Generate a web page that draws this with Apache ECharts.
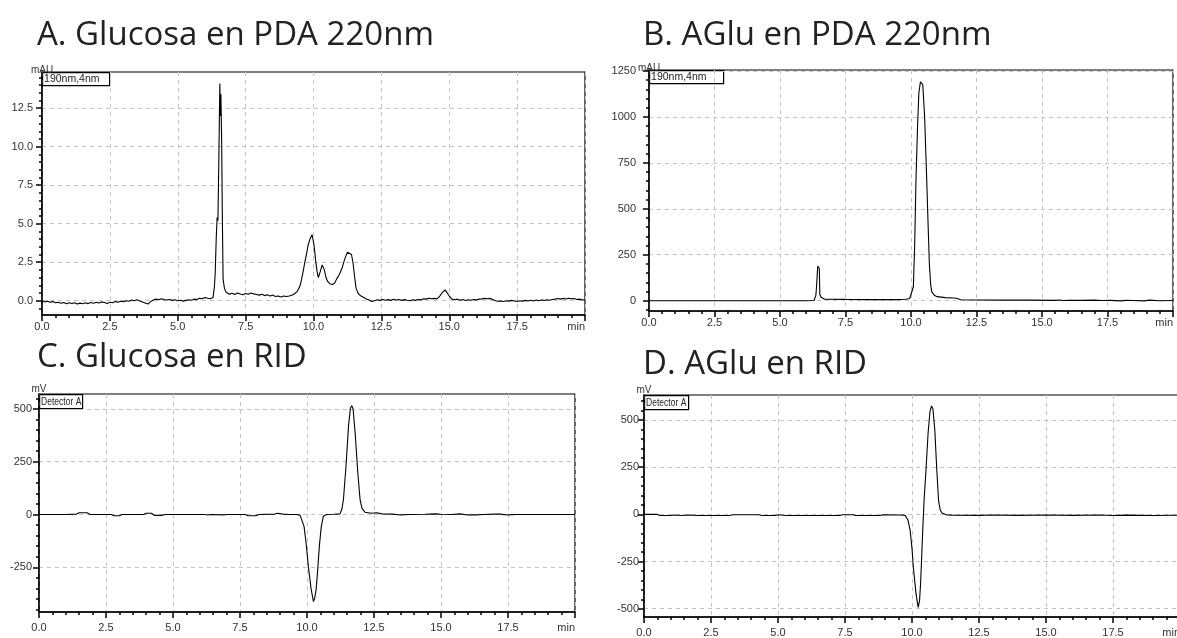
<!DOCTYPE html>
<html>
<head>
<meta charset="utf-8">
<script src="https://cdn.jsdelivr.net/npm/echarts@6/dist/echarts.min.js"></script>
<style>html,body{margin:0;padding:0;background:#fff;overflow:hidden;}#main{width:1177px;height:638px;}</style>
</head>
<body>
<div id="main"></div>
<script>
// ---------- DATA ----------
const titles = ['A. Glucosa en PDA 220nm', 'B. AGlu en PDA 220nm', 'C. Glucosa en RID', 'D. AGlu en RID'];
const yUnits = ['mAU', 'mAU', 'mV', 'mV'];
const boxLabels = ['190nm,4nm', '190nm,4nm', 'Detector A', 'Detector A'];
const xTicks = [0, 2.5, 5, 7.5, 10, 12.5, 15, 17.5, 20];

const yMajorA = [0, 2.5, 5, 7.5, 10, 12.5];
const yMajorB = [0, 250, 500, 750, 1000, 1250];
const yMajorC = [-250, 0, 250, 500];
const yMajorD = [-500, -250, 0, 250, 500];

const glucosaPDA = [[0,0.0],[0.1,-0.08],[0.2,-0.03],[0.3,-0.1],[0.4,-0.06],[0.5,-0.14],[0.6,-0.1],[0.7,-0.17],[0.8,-0.12],[0.9,-0.2],[1.0,-0.14],[1.1,-0.18],[1.2,-0.13],[1.3,-0.22],[1.4,-0.16],[1.5,-0.2],[1.6,-0.14],[1.7,-0.19],[1.8,-0.12],[1.9,-0.17],[2.0,-0.1],[2.1,-0.15],[2.2,-0.08],[2.3,-0.12],[2.4,-0.18],[2.5,-0.1],[2.6,-0.14],[2.7,-0.06],[2.8,-0.1],[2.9,-0.03],[3.0,-0.07],[3.1,0.0],[3.2,-0.04],[3.3,0.04],[3.4,0.0],[3.5,0.06],[3.6,-0.02],[3.7,-0.08],[3.8,-0.15],[3.9,-0.22],[4.0,-0.06],[4.1,0.05],[4.2,0.1],[4.3,0.06],[4.4,0.13],[4.5,0.07],[4.6,0.04],[4.7,0.08],[4.8,0.02],[4.9,0.06],[5.0,0.0],[5.1,0.03],[5.2,-0.03],[5.3,0.02],[5.4,0.06],[5.5,0.03],[5.6,0.1],[5.7,0.07],[5.8,0.15],[5.9,0.12],[6.0,0.2],[6.1,0.16],[6.2,0.13],[6.3,0.2],[6.35,0.9],[6.38,1.8],[6.42,4.2],[6.45,5.4],[6.48,5.2],[6.52,10.0],[6.55,14.1],[6.57,12.0],[6.59,13.4],[6.62,10.0],[6.64,5.8],[6.67,1.4],[6.72,0.8],[6.78,0.55],[6.9,0.42],[7.0,0.48],[7.1,0.4],[7.2,0.5],[7.3,0.43],[7.4,0.38],[7.5,0.47],[7.6,0.42],[7.7,0.5],[7.8,0.44],[7.9,0.4],[8.0,0.36],[8.1,0.42],[8.2,0.33],[8.3,0.38],[8.4,0.3],[8.5,0.36],[8.6,0.27],[8.7,0.3],[8.8,0.24],[8.9,0.3],[9.0,0.27],[9.1,0.3],[9.2,0.35],[9.3,0.45],[9.4,0.6],[9.5,0.95],[9.55,1.3],[9.62,1.9],[9.67,2.4],[9.75,3.1],[9.8,3.6],[9.88,4.05],[9.95,4.28],[10.02,3.6],[10.08,2.6],[10.13,1.9],[10.18,1.5],[10.25,1.9],[10.32,2.32],[10.4,2.0],[10.46,1.5],[10.52,1.25],[10.6,1.1],[10.7,1.05],[10.78,1.15],[10.85,1.4],[10.95,1.7],[11.05,2.1],[11.14,2.65],[11.25,3.15],[11.32,3.24],[11.4,3.0],[11.46,2.4],[11.51,1.6],[11.57,0.8],[11.65,0.45],[11.75,0.3],[11.85,0.2],[11.95,0.1],[12.05,0.05],[12.15,-0.05],[12.25,0.0],[12.35,0.06],[12.45,0.02],[12.55,0.08],[12.65,0.03],[12.75,0.07],[12.85,0.02],[12.95,0.09],[13.05,0.04],[13.15,0.08],[13.25,0.02],[13.35,0.07],[13.45,0.03],[13.55,0.0],[13.65,0.06],[13.75,0.02],[13.85,0.08],[13.95,0.05],[14.05,0.12],[14.15,0.1],[14.25,0.16],[14.35,0.12],[14.45,0.15],[14.55,0.12],[14.65,0.3],[14.75,0.55],[14.85,0.7],[14.92,0.6],[15.0,0.3],[15.1,0.1],[15.2,0.06],[15.3,0.1],[15.4,0.03],[15.5,0.07],[15.6,0.01],[15.7,0.06],[15.8,0.03],[15.9,0.08],[16.0,0.05],[16.1,0.1],[16.2,0.12],[16.3,0.15],[16.4,0.13],[16.5,0.15],[16.6,0.08],[16.7,0.0],[16.8,-0.04],[16.9,-0.02],[17.0,-0.05],[17.1,0.0],[17.2,-0.03],[17.3,0.02],[17.4,-0.02],[17.5,-0.05],[17.6,0.0],[17.7,-0.03],[17.8,0.02],[17.9,-0.02],[18.0,0.03],[18.1,-0.02],[18.2,0.04],[18.3,0.0],[18.4,0.05],[18.5,0.01],[18.6,0.06],[18.7,0.03],[18.8,0.08],[18.9,0.1],[19.0,0.14],[19.1,0.1],[19.2,0.15],[19.3,0.11],[19.4,0.16],[19.5,0.12],[19.6,0.14],[19.7,0.08],[19.8,0.1],[19.9,0.05],[20,0.06]];

const agluPDA = [[0,0],[1,0],[2,0],[3,0],[4,0],[5,0],[6,0],[6.3,1],[6.37,30],[6.4,89],[6.42,90],[6.44,188],[6.47,185],[6.5,175],[6.52,35],[6.56,20],[6.6,10],[6.7,8],[7.5,7],[8.5,6],[9.5,6],[9.8,8],[9.95,12],[10.02,18],[10.09,76],[10.14,300],[10.19,656],[10.25,950],[10.3,1130],[10.36,1190],[10.4,1195],[10.45,1175],[10.52,1000],[10.6,656],[10.66,380],[10.7,203],[10.75,90],[10.79,49],[10.9,28],[11.0,22],[11.3,17],[11.6,15],[11.74,13],[11.9,5],[12.5,4],[13.5,3],[14.5,3],[15.5,2],[15.7,4],[15.8,1],[16,2],[16.5,2],[17,3],[17.3,1],[17.6,2],[18,-1],[18.2,2],[18.5,1],[18.9,-1],[19.1,3],[19.5,0],[20,1]];

const glucosaRID = [[0,0],[1.0,0],[1.4,2],[1.5,8],[1.8,8],[1.9,0],[2.7,0],[2.8,-6],[3.0,-6],[3.1,0],[3.9,0],[4.0,6],[4.2,6],[4.3,-4],[4.6,-4],[4.7,0],[6.2,0],[6.3,-2],[6.4,0],[6.9,-2],[7.0,0],[7.7,0],[7.8,-6],[8.1,-6],[8.2,0],[8.8,2],[8.9,6],[9.1,2],[9.3,0],[9.6,0],[9.74,-3],[9.89,-56],[9.97,-140],[10.05,-246],[10.15,-350],[10.24,-413],[10.28,-400],[10.34,-357],[10.4,-260],[10.46,-151],[10.53,-60],[10.61,-8],[10.73,0],[11.0,1],[11.23,3],[11.3,25],[11.36,71],[11.45,220],[11.55,420],[11.62,505],[11.67,515],[11.72,500],[11.8,380],[11.9,190],[11.98,71],[12.05,30],[12.16,11],[12.4,6],[12.6,8],[12.8,3],[13.2,2],[13.5,-2],[13.8,0],[14.4,1],[14.8,3],[15.0,1],[15.4,0],[15.7,3],[16.0,-2],[16.3,-2],[16.6,0],[17.0,2],[17.2,2],[17.5,-2],[17.8,0],[18.2,0],[20,0]];

const agluRID = [[0,0],[0.5,0],[0.6,-6],[1.0,-6],[1.1,-3],[1.4,-6],[1.7,-3],[2.0,-6],[3.2,-6],[3.3,-2],[4.3,-2],[4.4,-6],[4.9,-6],[5.0,-2],[5.3,-6],[7.3,-6],[7.4,-2],[7.8,-2],[7.9,-6],[8.8,-6],[8.9,-2],[9.6,-3],[9.74,-5],[9.85,-30],[9.93,-85],[10.0,-180],[10.05,-280],[10.15,-420],[10.23,-493],[10.28,-460],[10.32,-369],[10.36,-230],[10.4,-85],[10.45,74],[10.52,230],[10.6,430],[10.67,545],[10.73,575],[10.78,560],[10.85,450],[10.92,250],[10.99,74],[11.05,25],[11.12,7],[11.3,-3],[11.5,-4],[12.5,-5],[13.0,-3],[14.0,-5],[15.0,-3],[16.0,-5],[17.0,-3],[17.5,-6],[18.0,-4],[19.0,-6],[20,-4]];

// ---------- LAYOUT ----------
const panels = [
  {data: glucosaPDA, majors: yMajorA, minStep: 0.5, ymin: -0.93, ymax: 14.85, dec: 1, yMargin: 9, nameGap: -3,
   grid: {left: 42, top: 72, width: 543, height: 243}, box: [67, 13], boxScale: 1, title: [37, 19], narrow: false},
  {data: agluPDA, majors: yMajorB, minStep: 50, ymin: -56, ymax: 1255, dec: 0, yMargin: 13, nameGap: -3,
   grid: {left: 649, top: 70, width: 524, height: 241}, box: [74, 13], boxScale: 1, title: [643, 19], narrow: false},
  {data: glucosaRID, majors: yMajorC, minStep: 50, ymin: -462, ymax: 571, dec: 0, yMargin: 7, nameGap: 0,
   grid: {left: 39, top: 394, width: 536, height: 218}, box: [43, 14], boxScale: 0.74, title: [37, 341], narrow: true},
  {data: agluRID, majors: yMajorD, minStep: 50, ymin: -544, ymax: 633, dec: 0, yMargin: 5, nameGap: 0,
   grid: {left: 644, top: 395, width: 536, height: 222}, box: [44, 14], boxScale: 0.74, title: [643, 348], narrow: true}
];

function minorValues(p) {
  const out = [];
  const start = Math.ceil(p.ymin / p.minStep);
  const end = Math.floor(p.ymax / p.minStep);
  for (let k = start; k <= end; k++) out.push(+(k * p.minStep).toFixed(6));
  return out;
}

const grids = [], xAxes = [], yAxes = [], series = [], titleOpts = [], graphics = [];
panels.forEach((p, i) => {
  const labelFont = p.narrow ? '"Liberation Sans Narrow", "Liberation Sans", Arial, sans-serif' : '"Liberation Sans", Arial, sans-serif';
  grids.push(Object.assign({show: true, borderColor: '#000', borderWidth: 1.2, backgroundColor: 'transparent',
    containLabel: false, outerBoundsMode: 'none'}, p.grid));
  xAxes.push({
    gridIndex: i, type: 'value', min: 0, max: 20, interval: 2.5,
    axisLine: {show: true, onZero: false, lineStyle: {color: '#000', width: 1.5}},
    axisTick: {show: true, length: 6, lineStyle: {color: '#000', width: 1.5}},
    minorTick: {show: true, splitNumber: 5, length: 3, lineStyle: {color: '#000', width: 1.5}},
    axisLabel: {fontSize: 11, color: '#333', fontFamily: labelFont, margin: p.narrow ? 10 : 6,
      hideOverlap: false, alignMaxLabel: 'right',
      formatter: v => (Math.abs(v - 20) < 1e-6 ? 'min' : v.toFixed(1))},
    splitLine: {show: true, lineStyle: {type: [4, 4], color: '#c4c4c4', width: 1}},
    minorSplitLine: {show: false}
  });
  yAxes.push({
    gridIndex: i, type: 'value', min: p.ymin, max: p.ymax, position: 'left',
    axisLine: {show: true, onZero: false, lineStyle: {color: '#000', width: 1.5}},
    axisTick: {show: true, length: 6, customValues: p.majors, lineStyle: {color: '#000', width: 1.5}},
    axisLabel: {customValues: p.majors, fontSize: 11, color: '#333', fontFamily: labelFont, margin: p.yMargin,
      hideOverlap: false, formatter: v => v.toFixed(p.dec)},
    splitLine: {show: true, lineStyle: {type: [4, 4], color: '#c4c4c4', width: 1}},
    name: yUnits[i], nameLocation: 'end', nameGap: p.nameGap, nameMoveOverlap: false,
    nameTextStyle: {fontSize: 10, color: '#333', fontFamily: labelFont, align: 'center', verticalAlign: 'bottom'}
  });
  yAxes.push({
    gridIndex: i, type: 'value', min: p.ymin, max: p.ymax, position: 'left', offset: 0,
    axisLine: {show: false, onZero: false},
    axisTick: {show: true, length: 3, customValues: minorValues(p), lineStyle: {color: '#000', width: 1.5}},
    axisLabel: {show: false},
    splitLine: {show: false}
  });
  series.push({
    type: 'line', xAxisIndex: i, yAxisIndex: 2 * i, data: p.data,
    showSymbol: false, symbol: 'none', smooth: false, clip: true,
    lineStyle: {color: '#000', width: 1.1}, z: 3
  });
  titleOpts.push({
    text: titles[i], left: p.title[0], top: p.title[1], padding: 0,
    textStyle: {fontSize: 33, fontWeight: 'normal', color: '#222', fontFamily: '"Open Sans", "Noto Sans", sans-serif'}
  });
  graphics.push({
    type: 'group', left: p.grid.left, top: p.grid.top, z: 10,
    children: [
      {type: 'rect', shape: {x: 0, y: 0, width: p.box[0], height: p.box[1]},
       style: {fill: '#fff', stroke: '#000', lineWidth: 1.2}},
      {type: 'text', x: 1.5, y: p.box[1] / 2 + 0.5, scaleX: p.boxScale,
       style: {text: boxLabels[i], fontSize: p.narrow ? 11.5 : 10.5, fill: '#222', fontFamily: labelFont, verticalAlign: 'middle', align: 'left'}}
    ]
  });
});

const chart = echarts.init(document.getElementById('main'), null, {renderer: 'canvas'});
chart.setOption({
  animation: false,
  backgroundColor: '#fff',
  title: titleOpts,
  grid: grids,
  xAxis: xAxes,
  yAxis: yAxes,
  series: series,
  graphic: graphics
});
</script>
</body>
</html>
